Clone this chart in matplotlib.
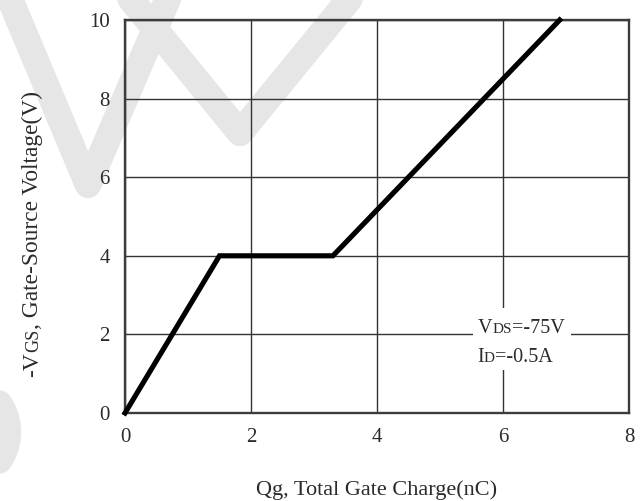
import numpy as np
import matplotlib.pyplot as plt
from matplotlib.lines import Line2D
from matplotlib.patches import Rectangle
from matplotlib.transforms import offset_copy

# gate charge curve
qg = [0, 1.5, 3.3, 6.9]
vgs = [0, 4, 4, 10]

x_ticks = [0, 2, 4, 6, 8]
y_ticks = [0, 2, 4, 6, 8, 10]

ylabel_parts = [("-V", 16.8), ("GS", 13), (", Gate-Source Voltage(V)", 16.8)]
note_line1 = [("V", 14.5), ("DS", 11), ("=-75V", 14.5)]
note_line2 = [("I", 14.5), ("D", 11), ("=-0.5A", 14.5)]

plt.rcParams['font.family'] = ['Liberation Serif', 'DejaVu Serif']
TXT = '#2b2b2b'

W, H = 642, 501
fig = plt.figure(figsize=(W / 100, H / 100), dpi=100)
ax = fig.add_axes([125 / W, 88 / H, 504 / W, 393 / H])
ax.set_facecolor('none')


def px_line(xs, ys, lw=19, **kw):
    # light watermark strokes, given in pixel coords from top-left
    xs = np.asarray(xs, dtype=float) / 100
    ys = (H - np.asarray(ys, dtype=float)) / 100
    fig.add_artist(Line2D(xs, ys, transform=fig.dpi_scale_trans, color='#e6e6e6',
                          lw=lw, solid_joinstyle='round', solid_capstyle='round',
                          zorder=-1, **kw))


px_line([2, 88, 176], [-20, 185, -20])
px_line([115, 240, 365], [-20, 133, -20])
t = np.linspace(-1.2, 1.2, 60)
px_line(-42 + 50 * np.cos(t), 432 + 50 * np.sin(t))

ax.plot(qg, vgs, color='black', lw=3.7, solid_joinstyle='miter', zorder=4, clip_on=False)

ax.set_xlim(0, 8)
ax.set_ylim(0, 10)
ax.set_xticks(x_ticks)
ax.set_yticks(y_ticks)
ax.grid(True, color='#333333', lw=1.0)
ax.tick_params(length=0, pad=11, labelsize=15, colors=TXT)
for sp in ax.spines.values():
    sp.set_color('#3c3c3c')
    sp.set_linewidth(1.7)
    sp.set_zorder(3)

ax.set_xlabel('Qg, Total Gate Charge(nC)', fontsize=16, color=TXT, labelpad=24)

# white box behind the test conditions
ax.add_patch(Rectangle((5.52, 1.09), 1.56, 1.58, facecolor='white',
                       edgecolor='none', zorder=2))

renderer = fig.canvas.get_renderer()


def rich_text(x, y, parts, transform, vertical=False):
    off = 0.0
    for s, size in parts:
        if vertical:
            tr = offset_copy(transform, fig=fig, x=0, y=off, units='dots')
            t = ax.text(x, y, s, fontsize=size, color=TXT, transform=tr, rotation=90,
                        rotation_mode='anchor', ha='left', va='baseline', zorder=5)
            off += t.get_window_extent(renderer).height
        else:
            tr = offset_copy(transform, fig=fig, x=off, y=0, units='dots')
            t = ax.text(x, y, s, fontsize=size, color=TXT, transform=tr,
                        ha='left', va='baseline', zorder=5)
            off += t.get_window_extent(renderer).width


rich_text(0.38, (H - 377) / 100, ylabel_parts, fig.dpi_scale_trans, vertical=True)
rich_text(5.60, 2.04, note_line1, ax.transData)
rich_text(5.59, 1.30, note_line2, ax.transData)

fig.savefig('out.png', dpi=100, facecolor='white')
